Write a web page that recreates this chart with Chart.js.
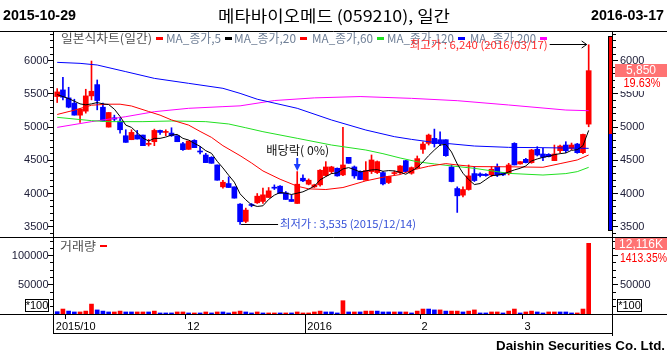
<!DOCTYPE html>
<html><head><meta charset="utf-8">
<script src="https://cdn.jsdelivr.net/npm/chart.js@4.4.1/dist/chart.umd.min.js"></script>
<style>html,body{margin:0;padding:0;background:#fff;overflow:hidden}</style>
</head><body>
<canvas id="c" width="667" height="358"></canvas>
<script>
// ---------- DATA ----------
const openP = [5460,5560,5440,5360,5180,5240,5470,5640,5300,5000,
 5140,5090,4870,4810,4880,4880,4740,4780,4950,4920,
 4910,4870,4750,4665,4800,4635,4580,4545,4430,4100,
 4150,4100,3840,3580,3835,3860,3880,3940,4090,4110,
 4010,3910,3850,4230,4140,4100,4130,4270,4330,4380,
 4280,4545,4400,4330,4200,4330,4315,4315,4165,4300,
 4315,4495,4305,4390,4665,4755,4830,4810,4810,4400,
 4075,3975,4060,4300,4295,4290,4280,4405,4315,4305,
 4755,4445,4515,4465,4665,4595,4590,4495,4645,4730,
 4680,4745,4615,5045];
const highP = [5580,5750,5600,5420,5280,5570,5995,5710,5360,5220,
 5180,5130,4960,4960,4950,4880,4815,4970,4955,4960,
 4990,4870,4770,4790,4810,4705,4605,4555,4430,4200,
 4250,4100,3850,3780,3850,4000,4080,4090,4130,4120,
 4030,3980,4330,4280,4220,4140,4360,4480,4410,4385,
 4995,4545,4415,4340,4480,4580,4490,4330,4260,4340,
 4420,4500,4400,4565,4780,4895,4970,4930,4810,4430,
 4100,4100,4430,4405,4310,4300,4405,4445,4320,4455,
 4765,4480,4530,4665,4705,4680,4600,4730,4730,4780,
 4760,4755,4895,6240];
const lowP = [5370,5410,5290,5180,5070,5210,5410,5260,5090,5000,
 5090,4910,4770,4810,4820,4720,4715,4720,4890,4870,
 4860,4780,4650,4665,4690,4595,4465,4455,4200,4080,
 4090,3930,3535,3560,3800,3850,3850,3940,4060,4000,
 3910,3880,3850,4180,4130,4090,4110,4260,4300,4260,
 4270,4455,4230,4210,4200,4300,4300,4130,4150,4280,
 4300,4320,4290,4380,4605,4730,4700,4720,4560,4175,
 3715,3950,4050,4180,4250,4260,4255,4255,4270,4280,
 4430,4440,4460,4455,4565,4495,4550,4495,4615,4615,
 4660,4605,4600,5005];
const closeP = [5530,5450,5300,5180,5270,5470,5540,5400,5090,5220,
 5120,4960,4770,4920,4820,4720,4750,4950,4920,4925,
 4870,4780,4660,4790,4690,4625,4465,4455,4200,4170,
 4090,3930,3575,3750,3820,3960,3980,4040,4080,4000,
 3910,3880,4140,4190,4200,4130,4350,4400,4400,4265,
 4430,4455,4265,4210,4345,4505,4480,4145,4255,4315,
 4415,4330,4390,4525,4745,4880,4750,4750,4570,4180,
 3965,4060,4265,4195,4270,4270,4365,4280,4280,4430,
 4430,4480,4465,4655,4580,4545,4555,4595,4715,4645,
 4730,4615,4890,5850];
// volume in units of 100 shares
const volume = [4000,8500,5000,3500,3500,5000,17000,7000,5000,3500,
 3500,5000,3500,3500,3500,3500,3500,5000,1800,1800,
 1800,3500,3500,1800,1800,1800,3500,1800,3500,3500,
 1800,3500,5000,3500,1800,3500,1800,1800,1800,1800,
 1800,1800,3500,1800,1800,3500,5000,3500,3500,1800,
 22800,3500,3500,3500,5000,5000,5000,3500,3500,3500,
 3500,3500,1800,5000,8500,8500,7000,7000,5000,5000,
 5000,3500,5000,7000,1800,1800,3500,3500,1800,5000,
 8500,1800,3500,5000,3500,1800,3500,3500,3500,3500,
 1800,1800,8500,121160];
const volDir = ('BRBBRRRBBB'+'RRBBRRBRBB'+'BRRBRBRBRB'+'BRRBBRBRRB'+'RBRRRRRBBB'+
 'RBRBRRBBBR'+'BRBRRBBRBR'+'RBRRBBRRBR'+'RBRRBBRRBB'+'BRRR').split('');
const ma5 = [5490,5460,5430,5390,5350,5335,5350,5370,5350,5340,
 5270,5160,5030,4995,4915,4835,4790,4830,4830,4850,
 4880,4890,4830,4805,4755,4710,4645,4605,4485,4385,
 4275,4170,3995,3905,3830,3805,3815,3910,3975,4015,
 4005,3985,4005,4025,4065,4110,4205,4255,4300,4310,
 4370,4390,4360,4325,4340,4355,4360,4335,4345,4340,
 4320,4290,4340,4390,4475,4570,4655,4730,4740,4625,
 4445,4305,4210,4135,4150,4210,4270,4275,4290,4325,
 4355,4380,4415,4490,4520,4545,4560,4585,4600,4610,
 4650,4660,4720,4950];
const ma20 = [[0,5190],[3,5255],[6,5330],[9,5345],[11,5345],[13,5318],[16,5235],[18,5180],[20,5108],[23,5030],[25,4935],[27,4845],[29,4720],[32,4570],[34,4460],[36,4340],[39,4215],[42,4110],[44,4070],[47,4060],[50,4090],[54,4190],[57,4245],[60,4285],[62,4350],[65,4410],[68,4450],[70,4430],[73,4405],[79,4402],[85,4395],[88,4450],[91,4505],[93,4580]];
const ma60 = [[0,5147],[6,5097],[9,5082],[15,5082],[20,5092],[26,5082],[30,5047],[33,4990],[36,4931],[42,4831],[48,4730],[54,4655],[57,4600],[60,4535],[63,4478],[66,4445],[69,4415],[73,4379],[79,4303],[85,4278],[89,4300],[91,4329],[93,4394]];
const ma120 = [[0,5975],[4,5960],[7,5935],[12,5835],[17,5734],[23,5659],[29,5584],[32,5508],[35,5420],[42,5283],[48,5107],[54,4956],[59,4856],[62,4815],[65,4780],[68,4755],[73,4715],[79,4695],[85,4690],[93,4680]];
const ma200 = [[0,4996],[6,5082],[12,5157],[17,5232],[23,5283],[29,5308],[32,5320],[38,5400],[45,5440],[53,5460],[62,5433],[70,5398],[79,5333],[89,5257],[93,5247]];
const priceTickLabels = [3500,4000,4500,5000,5500,6000];
const volTickLabels = [50000,100000];
const monthStart = [0,2,23,44,64,82];
const monthLabels = ['2015/10','','12','2016','2','3'];
const yearStart = 44;
const prevClose = 4890;
const lastCloseText = '5,850', lastChangeText = '19.63%';
const lastVolText = '12,116K', lastVolChangeText = '1413.35%';
const highIdx = 93, highText = '최고가 : 6,240 (2016/03/17)';
const lowIdx = 32, lowText = '최저가 : 3,535 (2015/12/14)';
const exDivIdx = 42, exDivText = '배당락( 0%)';
const startDate = '2015-10-29', endDate = '2016-03-17';
const titleText = '메타바이오메드 (059210), 일간';
// ---------------------------------------------------

const RED = '#ff0000', BLUE = '#0000ff', GREEN = '#22e022', MAG = '#ff00ff', BLACK = '#000000';
const idx = closeP.map((_, i) => i);
const candleColor = idx.map(i => closeP[i] >= openP[i] ? RED : BLUE);
const pairData = arr => arr.map(p => ({x: p[0], y: p[1]}));
const lineDs = (data, color) => ({type: 'line', data, borderColor: color, borderWidth: 1, pointRadius: 0, tension: 0, yAxisID: 'y', order: 0});

const FONT = '"Liberation Sans", Arial, sans-serif';
const KFONT = '"Noto Sans CJK KR", "Noto Sans", sans-serif';

function fitText(ctx, txt, x, y, w, align) {
  const m = ctx.measureText(txt).width;
  const s = w / m;
  const x0 = align === 'left' ? x : (align === 'right' ? x - w : x - w / 2);
  ctx.save();
  ctx.translate(x0, y); ctx.scale(s, 1);
  ctx.textAlign = 'left';
  ctx.fillText(txt, 0, 0);
  ctx.restore();
}

const overlay = {
  id: 'overlay',
  afterDraw(chart) {
    const ctx = chart.ctx, xs = chart.scales.x, ys = chart.scales.y, yv = chart.scales.yv;
    ctx.save();
    ctx.strokeStyle = '#000'; ctx.lineWidth = 1;
    const H = (x1, x2, y) => { ctx.beginPath(); ctx.moveTo(x1, y); ctx.lineTo(x2, y); ctx.stroke(); };
    const V = (x, y1, y2) => { ctx.beginPath(); ctx.moveTo(x, y1); ctx.lineTo(x, y2); ctx.stroke(); };

    // right-side price colour bar (red above previous close, blue below)
    const bTop = Math.round(ys.getPixelForValue(6357)), bBot = Math.round(ys.getPixelForValue(3450));
    const bMid = Math.round(ys.getPixelForValue(prevClose));
    ctx.fillStyle = '#000'; ctx.fillRect(608, bTop - 1, 4, bBot - bTop + 2);
    ctx.fillStyle = RED; ctx.fillRect(609, bTop, 3, bMid - bTop);
    ctx.fillStyle = BLUE; ctx.fillRect(609, bMid, 3, bBot - bMid);

    // frame lines
    H(0, 667, 31.5); H(0, 667, 237.5); H(0, 667, 314.5); H(53, 613, 333.5);
    V(53.5, 31, 334); V(612.5, 31, 336);

    // price ticks
    for (let v = 3400; v <= 6400; v += 100) {
      const y = Math.floor(ys.getPixelForValue(v)) + 0.5;
      if (y < 33 || y > 236) continue;
      const L = v % 500 === 0 ? 5 : 3;
      H(53 - L, 53, y); H(613, 613 + L, y);
    }
    // volume ticks
    for (let v = 12500; v <= 125000; v += 12500) {
      const y = Math.floor(yv.getPixelForValue(v)) + 0.5;
      if (y < 239 || y > 313) continue;
      const L = v % 50000 === 0 ? 5 : 3;
      H(53 - L, 53, y); H(613, 613 + L, y);
    }

    ctx.textBaseline = 'middle';
    // left & right price labels
    ctx.font = '11px ' + FONT; ctx.fillStyle = '#20203a';
    priceTickLabels.forEach(v => {
      const y = ys.getPixelForValue(v);
      ctx.textAlign = 'right'; ctx.fillText(String(v), 48.5, y);
      ctx.textAlign = 'left'; ctx.fillText(String(v), 620, y);
    });
    volTickLabels.forEach(v => {
      const y = yv.getPixelForValue(v);
      ctx.textAlign = 'right'; ctx.fillText(String(v), 48.5, y);
      if (v === 50000) { ctx.textAlign = 'left'; ctx.fillText(String(v), 620, y); }
    });

    // *100 boxes
    ctx.strokeRect(25.5, 299.5, 23, 12); ctx.strokeRect(617.5, 299.5, 24, 12);
    ctx.fillStyle = '#000'; ctx.font = '11px ' + FONT; ctx.textAlign = 'center';
    ctx.fillText('*100', 37, 306); ctx.fillText('*100', 629.5, 306);

    // last close box
    const yc = ys.getPixelForValue(closeP[closeP.length - 1]);
    ctx.fillStyle = '#ff7373'; ctx.fillRect(615, Math.round(yc) - 7, 52, 13);
    ctx.fillStyle = '#fff'; ctx.font = '12px ' + FONT; ctx.textAlign = 'center';
    ctx.fillText(lastCloseText, 641, yc);
    ctx.fillStyle = '#fff'; ctx.fillRect(615, Math.round(yc) + 7, 52, 13);
    ctx.fillStyle = RED; ctx.font = '12px ' + FONT;
    fitText(ctx, lastChangeText, 642, yc + 13.5, 37, 'center');

    // last volume box
    const yvl = yv.getPixelForValue(volume[volume.length - 1]);
    ctx.fillStyle = '#ff7373'; ctx.fillRect(615, Math.round(yvl) - 5, 52, 12);
    ctx.fillStyle = '#fff'; ctx.font = '12px ' + FONT; ctx.textAlign = 'center';
    ctx.fillText(lastVolText, 641, yvl + 1);
    ctx.fillStyle = RED; ctx.font = '12px ' + FONT;
    fitText(ctx, lastVolChangeText, 620, yvl + 15.5, 47, 'left');

    // header
    ctx.fillStyle = '#000';
    ctx.font = 'bold 14px ' + FONT;
    fitText(ctx, startDate, 3, 16, 73, 'left');
    fitText(ctx, endDate, 664, 16, 73, 'right');
    ctx.font = '16px ' + KFONT;
    fitText(ctx, titleText, 334, 16, 232, 'center');

    // legend
    const legend = [['일본식차트(일간)', RED, '#505050', 61, 91],
      ['MA_종가,5', BLACK, '#6f7f96', 166, 55],
      ['MA_종가,20', RED, '#6f7f96', 234, 62],
      ['MA_종가,60', GREEN, '#6f7f96', 312, 61],
      ['MA_종가,120', BLUE, '#6f7f96', 387, 67],
      ['MA_종가,200', MAG, '#6f7f96', 470, 66]];
    ctx.font = '12px ' + KFONT;
    legend.forEach(([t, c, tc, x, w]) => {
      ctx.fillStyle = tc; fitText(ctx, t, x, 38.5, w, 'left');
      ctx.fillStyle = c; ctx.fillRect(x + w + 4, 37, 7, 3);
    });

    // highest price annotation
    const hx = xs.getPixelForValue(highIdx) - 2, hy = Math.floor(ys.getPixelForValue(highP[highIdx])) + 0.5;
    ctx.strokeStyle = '#000';
    H(hx - 37, hx, hy);
    ctx.beginPath(); ctx.moveTo(hx - 5, hy - 3.5); ctx.lineTo(hx, hy); ctx.lineTo(hx - 5, hy + 3.5); ctx.stroke();
    ctx.fillStyle = '#ff2a2a'; ctx.font = '11px ' + KFONT;
    fitText(ctx, highText, hx - 39, hy, 138, 'right');

    // lowest price annotation
    const lx = xs.getPixelForValue(lowIdx) + 1, ly = Math.floor(ys.getPixelForValue(lowP[lowIdx])) + 0.5;
    H(lx, lx + 37, ly);
    ctx.fillStyle = '#3550d8'; ctx.font = '11px ' + KFONT;
    fitText(ctx, lowText, lx + 39, ly - 1, 136, 'left');

    // ex-dividend marker
    const ex = xs.getPixelForValue(exDivIdx);
    ctx.fillStyle = '#111'; ctx.font = '12px ' + KFONT;
    fitText(ctx, exDivText, ex + 0.5, 150, 63, 'center');
    ctx.fillStyle = '#1a3cff';
    ctx.fillRect(ex - 1, 158, 2, 7);
    ctx.beginPath(); ctx.moveTo(ex - 3.5, 164); ctx.lineTo(ex + 3.5, 164); ctx.lineTo(ex, 171); ctx.closePath(); ctx.fill();

    // volume legend
    ctx.fillStyle = '#505050'; ctx.font = '12px ' + KFONT;
    fitText(ctx, '거래량', 60, 246, 36, 'left');
    ctx.fillStyle = RED; ctx.fillRect(100, 245, 7, 2);

    // date axis
    ctx.strokeStyle = '#000'; ctx.fillStyle = '#000'; ctx.font = '11px ' + FONT; ctx.textAlign = 'left';
    monthStart.forEach((ms, k) => {
      const bx = xs.getPixelForValue(ms - 0.5);
      if (ms > 0) {
        const gx = Math.floor(bx) + 0.5;
        if (ms === yearStart) V(gx, 314, 333); else V(gx, 315, 319);
      }
      if (monthLabels[k]) ctx.fillText(monthLabels[k], bx + 1.5, 327);
    });

    // footer
    ctx.font = 'bold 13px ' + FONT;
    fitText(ctx, 'Daishin Securities Co. Ltd.', 665, 346.5, 169, 'right');
    ctx.restore();
  }
};

new Chart(document.getElementById('c'), {
  type: 'bar',
  data: {
    datasets: [
      lineDs(ma5.map((v, i) => ({x: i, y: v})), BLACK),
      lineDs(pairData(ma20), RED),
      lineDs(pairData(ma60), GREEN),
      lineDs(pairData(ma120), BLUE),
      lineDs(pairData(ma200), MAG),
      {type: 'bar', data: idx.map(i => ({x: i, y: [Math.min(openP[i], closeP[i]), Math.max(openP[i], closeP[i])]})),
       backgroundColor: candleColor, barThickness: 5, minBarLength: 1, grouped: false, yAxisID: 'y', order: 1},
      {type: 'bar', data: idx.map(i => ({x: i, y: [lowP[i], highP[i]]})),
       backgroundColor: candleColor, barThickness: 1, grouped: false, yAxisID: 'y', order: 2},
      {type: 'bar', data: idx.map(i => ({x: i, y: volume[i]})),
       backgroundColor: volDir.map(d => d === 'R' ? RED : BLUE), barThickness: 4, grouped: false, yAxisID: 'yv', order: 1}
    ]
  },
  options: {
    responsive: false, animation: false, devicePixelRatio: 1, events: [],
    layout: {padding: {left: 54, right: 55, top: 32, bottom: 44}},
    plugins: {legend: {display: false}, tooltip: {enabled: false}},
    scales: {
      x: {type: 'linear', min: -0.56, max: 97.08, offset: false, display: false},
      y: {type: 'linear', min: 2185.3, max: 6432.2, display: false},
      yv: {type: 'linear', min: 0, max: 483630, display: false}
    }
  },
  plugins: [overlay]
});
</script>
</body></html>
